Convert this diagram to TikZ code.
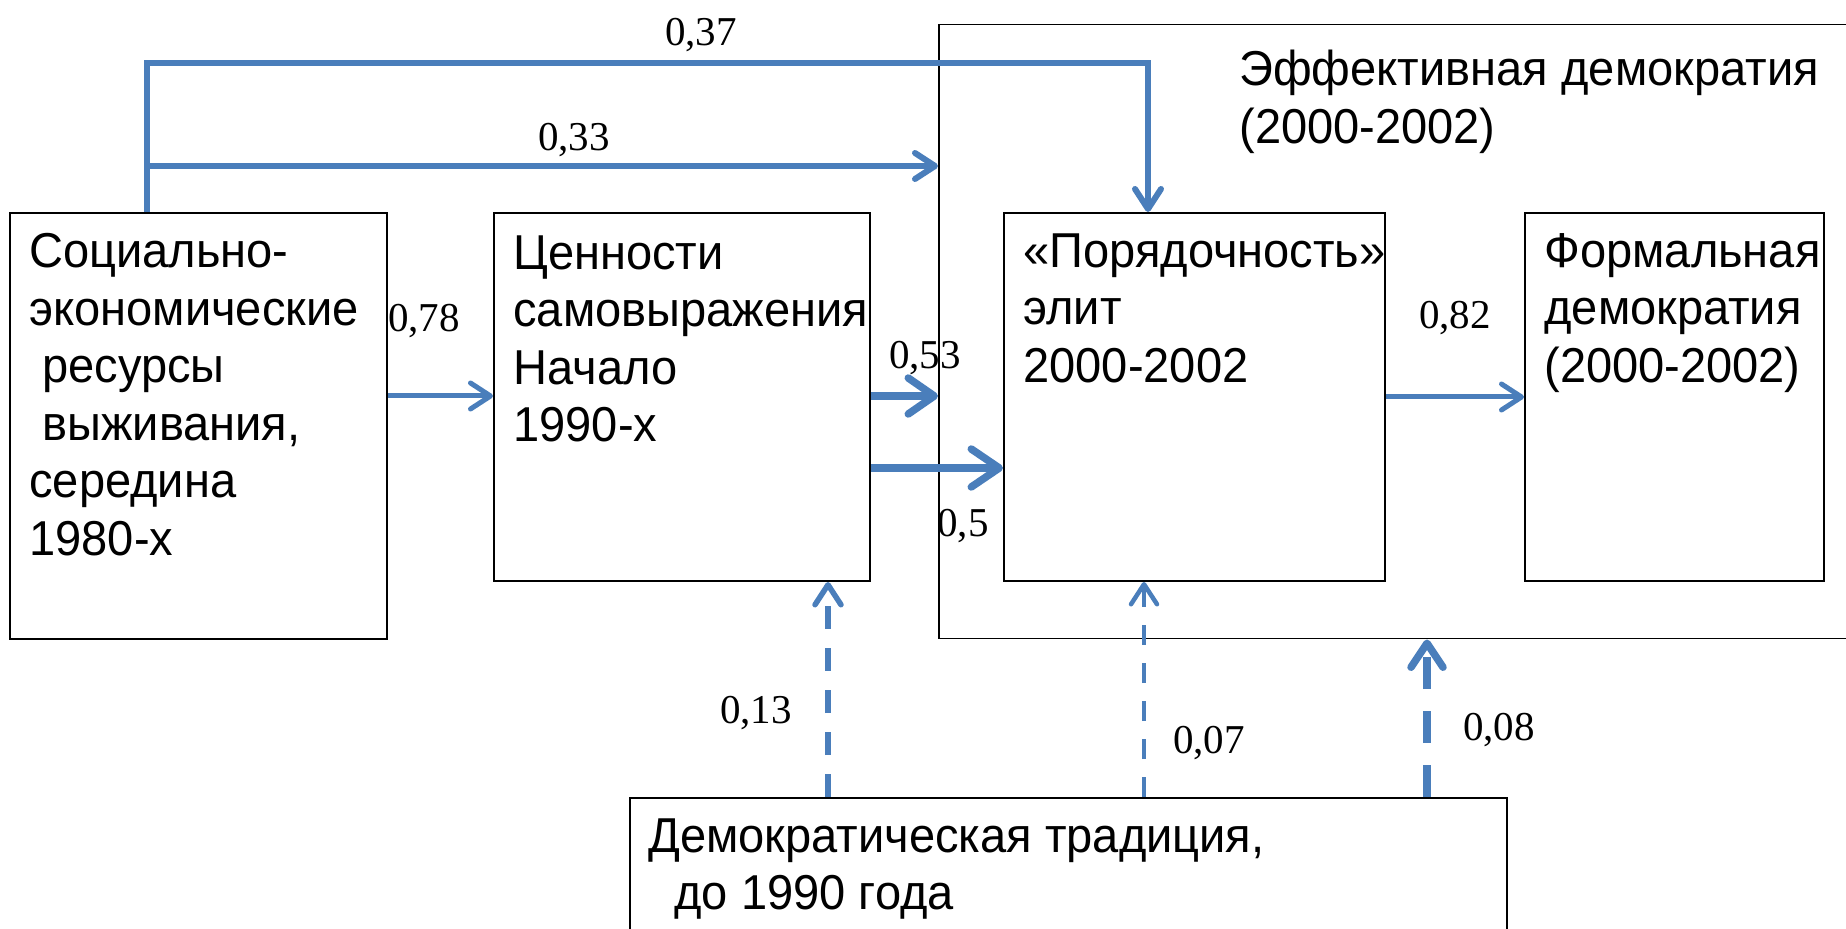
\documentclass[tikz,border=0pt]{standalone}
\usepackage{fontspec}
\setmainfont{Liberation Sans}[FakeStretch=0.96]
\newfontfamily\coeffont{Liberation Serif}
\usetikzlibrary{arrows.meta}
\definecolor{pathblue}{RGB}{74,126,187}
\begin{document}
\begin{tikzpicture}[x=0.5pt,y=-0.5pt,
    box/.style={draw,line width=1pt,anchor=north west,inner sep=0pt},
    boxtext/.style={anchor=north west,inner sep=0pt,align=left,
      font=\fontsize{24.5}{28.75}\selectfont},
    coef/.style={inner sep=0pt,font=\coeffont\fontsize{20.5}{24}\selectfont}]
  \useasboundingbox (0,0) rectangle (1846,929);
  \clip (0,0) rectangle (1846,929);
  \node[box,line width=0.75pt,minimum width=466pt,minimum height=307pt] (effdem) at (938,24) {};
  \node[box,minimum width=188.5pt,minimum height=213pt] (res) at (9,212) {};
  \node[box,minimum width=188pt,minimum height=184pt] (val) at (493,212) {};
  \node[box,minimum width=190.5pt,minimum height=184pt] (elit) at (1003,212) {};
  \node[box,minimum width=149.5pt,minimum height=184pt] (formal) at (1524,212) {};
  \node[box,minimum width=438.5pt,minimum height=100pt] (trad) at (629,797) {};
  \node[boxtext] (restext) at (29,233) {Социально-\\экономические\\\ ресурсы\\\ выживания,\\середина\\1980-х};
  \node[boxtext] (valtext) at (513,235) {Ценности\\самовыражения\\Начало\\1990-х};
  \node[boxtext] (elittext) at (1023,233) {«Порядочность»\\элит\\2000-2002};
  \node[boxtext] (formaltext) at (1544,233) {Формальная\\демократия\\(2000-2002)};
  \node[boxtext] (efftext) at (1239,50) {Эффективная демократия\\(2000-2002)};
  \node[boxtext] (tradtext) at (648,818) {Демократическая традиция,\\\ \ до 1990 года};
  \node[coef] (c37) at (701,35) {0,37};
  \node[coef] (c33) at (574,140) {0,33};
  \node[coef] (c78) at (424,321) {0,78};
  \node[coef] (c53) at (925,358) {0,53};
  \node[coef] (c5) at (963,526) {0,5};
  \node[coef] (c82) at (1455,318) {0,82};
  \node[coef] (c13) at (756,713) {0,13};
  \node[coef] (c07) at (1209,743) {0,07};
  \node[coef] (c08) at (1499,730) {0,08};
  \coordinate (bend37) at (147,63);
  \coordinate (bend33) at (147,166);
  \coordinate (drop37) at (1148,63);
  \coordinate (row53) at (0,396);
  \coordinate (row5) at (0,468);
  \coordinate (row82) at (0,397);
  \coordinate (col13) at (828,0);
  \coordinate (col07) at (1144,0);
  \coordinate (col08) at (1427,0);
  \begin{scope}[pathblue,line width=3pt,-{Straight Barb[length=10pt,width=13pt,round]}]
    \draw (res.north -| bend37) -- (bend37) -| (elit.north -| drop37);
    \draw (bend33) -- (effdem.west |- bend33);
    \draw[line width=2.5pt] (res.east |- row53) -- (val.west |- row53);
    \draw[line width=3.75pt,-{Straight Barb[length=13pt,width=18pt,round]}] (val.east |- row53) -- (effdem.west |- row53);
    \draw[line width=3.75pt,-{Straight Barb[length=14pt,width=19pt,round]}] (val.east |- row5) -- (elit.west |- row5);
    \draw[line width=2.5pt] (elit.east |- row82) -- (formal.west |- row82);
    \draw[line width=2.75pt,dash pattern=on 11.5pt off 9.5pt] (trad.north -| col13) -- (val.south -| col13);
    \draw[line width=2.25pt,dash pattern=on 10pt off 9pt] (trad.north -| col07) -- (elit.south -| col07);
    \draw[line width=3.75pt,dash pattern=on 16pt off 11pt,-{Straight Barb[length=12pt,width=16pt,round]}] (trad.north -| col08) -- (effdem.south -| col08);
  \end{scope}
\end{tikzpicture}
\end{document}
